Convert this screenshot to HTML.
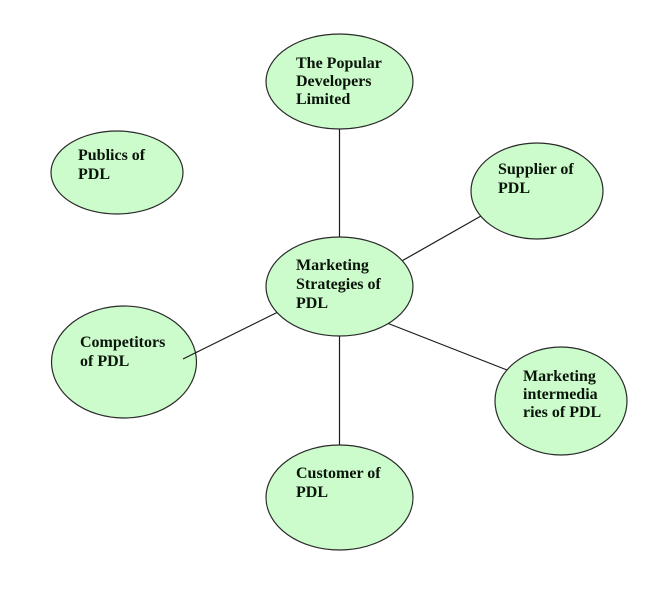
<!DOCTYPE html>
<html>
<head>
<meta charset="utf-8">
<style>
  html, body { margin: 0; padding: 0; background: #ffffff; }
  body { width: 655px; height: 597px; overflow: hidden; }
  svg { display: block; }
  text { font-family: "Liberation Serif", "Times New Roman", serif; font-weight: bold; font-size: 16px; fill: #0a140a; }
</style>
</head>
<body>
<svg width="655" height="597" viewBox="0 0 655 597" xmlns="http://www.w3.org/2000/svg">
  <rect x="0" y="0" width="655" height="597" fill="#ffffff"/>
  <!-- connectors -->
  <g stroke="#1a1a1a" stroke-width="1.2" fill="none">
    <line x1="339.5" y1="129" x2="339.5" y2="237"/>
    <line x1="339.5" y1="336" x2="339.5" y2="445"/>
    <line x1="400" y1="262" x2="481" y2="216"/>
    <line x1="387" y1="323" x2="507" y2="370"/>
    <line x1="183" y1="359" x2="278" y2="312"/>
  </g>
  <!-- ellipses -->
  <g fill="#ccfccc" stroke="#2a2a2a" stroke-width="1.2">
    <ellipse cx="339.5" cy="81.5" rx="73.5" ry="47.5"/>
    <ellipse cx="339.5" cy="286.5" rx="73.5" ry="49.5"/>
    <ellipse cx="117" cy="172.5" rx="66" ry="41.5"/>
    <ellipse cx="537" cy="191" rx="66" ry="48"/>
    <ellipse cx="124" cy="362" rx="72.5" ry="56"/>
    <ellipse cx="561" cy="401" rx="66" ry="54"/>
    <ellipse cx="339.5" cy="497.5" rx="73.5" ry="52.5"/>
  </g>
  <!-- line segment overlapping competitors ellipse -->
  <line x1="183" y1="359" x2="197" y2="352" stroke="#1a1a1a" stroke-width="1.2"/>
  <!-- labels -->
  <text x="296" y="68">The Popular</text>
  <text x="296" y="86">Developers</text>
  <text x="296" y="104">Limited</text>

  <text x="296" y="270">Marketing</text>
  <text x="296" y="289">Strategies of</text>
  <text x="296" y="308">PDL</text>

  <text x="78" y="160">Publics of</text>
  <text x="78" y="179">PDL</text>

  <text x="498" y="174">Supplier of</text>
  <text x="498" y="193">PDL</text>

  <text x="80" y="347">Competitors</text>
  <text x="80" y="366">of PDL</text>

  <text x="523" y="381">Marketing</text>
  <text x="523" y="399">intermedia</text>
  <text x="523" y="417">ries of PDL</text>

  <text x="296" y="478">Customer of</text>
  <text x="296" y="497">PDL</text>
</svg>
</body>
</html>
